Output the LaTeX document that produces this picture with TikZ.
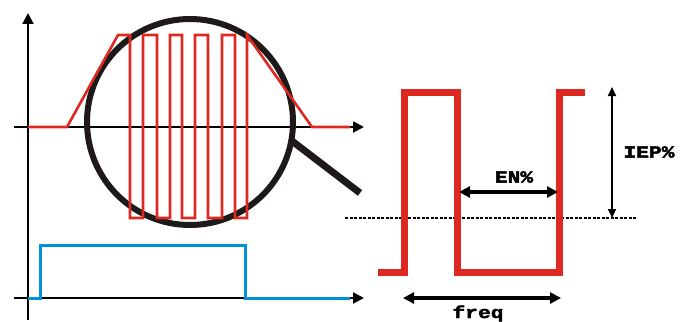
\documentclass[tikz,border=0pt]{standalone}
\usepackage{fontspec}
\usetikzlibrary{arrows.meta}
\newfontfamily\labfont{Liberation Mono}[FakeStretch=1.25,BoldFeatures={FakeBold=2.5}]
\definecolor{wred}{RGB}{221,41,33}
\definecolor{wblue}{RGB}{0,145,218}
\definecolor{lensblack}{RGB}{30,26,26}
\tikzset{
  axis/.style={line width=2pt,black,-{Triangle[length=11pt,width=11pt]}},
  redthin/.style={line width=2.6pt,wred,line join=miter},
  redthick/.style={line width=7pt,wred,line join=miter},
  bluew/.style={line width=3pt,wblue,line join=miter},
  lens/.style={line width=6pt,lensblack},
  dimthick/.style={line width=4pt,black,{Triangle[length=11pt,width=11pt]}-{Triangle[length=11pt,width=11pt]}},
  dimthin/.style={line width=2pt,black,{Triangle[length=9pt,width=8pt]}-{Triangle[length=9pt,width=8pt]}},
  lab/.style={font=\labfont\bfseries\fontsize{17}{17}\selectfont,inner sep=0pt},
  refline/.style={line width=1.6pt,black,dash pattern=on 3pt off 1.5pt}
}
\begin{document}
\begin{tikzpicture}[x=1pt,y=-1pt]
\useasboundingbox (0,0) rectangle (684,321);
% axes
\coordinate (vb) at (28,320);
\coordinate (vt) at (28,13);
\coordinate (ua0) at (14,127);
\coordinate (ua1) at (364,127);
\coordinate (la0) at (14,298);
\coordinate (la1) at (364,298);
\draw[axis] (vb) -- (vt);
\draw[axis] (ua0) -- (ua1);
\draw[axis] (la0) -- (la1);
% lens
\coordinate (lc) at (190,122);
\coordinate (h0) at (292,141);
\coordinate (h1) at (360,193);
\draw[lens] (lc) circle[radius=103];
\draw[lens,line width=7pt] (h0) -- (h1);
% red modulated waveform
\draw[redthin] (28,127) -- (67,127) -- (118,35) -- (130,35) -- (130,218) -- (143,218) -- (143,35) -- (157,35) -- (157,218) -- (170,218) -- (170,35) -- (182,35) -- (182,218) -- (195,218) -- (195,35) -- (208,35) -- (208,218) -- (222,218) -- (222,35) -- (235,35) -- (235,218) -- (247,218) -- (247,35) -- (312,127) -- (350,127);
% blue gate
\draw[bluew] (28,298) -- (40,298) -- (40,245) -- (245,245) -- (245,298) -- (350,298);
% right detail
\coordinate (d0) at (345,218);
\coordinate (d1) at (637,218);
\draw[refline] (d0) -- (d1);
\draw[redthick] (378,272) -- (404.5,272) -- (404.5,92) -- (457,92) -- (457,272) -- (559,272) -- (559,92) -- (585,92);
% dimension arrows
\coordinate (en0) at (459,192);
\coordinate (en1) at (558,192);
\draw[dimthick] (en0) -- (en1);
\coordinate (fq0) at (403,298);
\coordinate (fq1) at (561,298);
\draw[dimthick,line width=3.6pt] (fq0) -- (fq1);
\coordinate (ie0) at (612,87);
\coordinate (ie1) at (612,218);
\draw[dimthin] (ie0) -- (ie1);
% labels
\node[lab] (ien) at (649,152) {IEP\%};
\node[lab] (enl) at (514,177) {EN\%};
\node[lab,anchor=base] (fql) at (478,318) {freq};
\end{tikzpicture}
\end{document}
